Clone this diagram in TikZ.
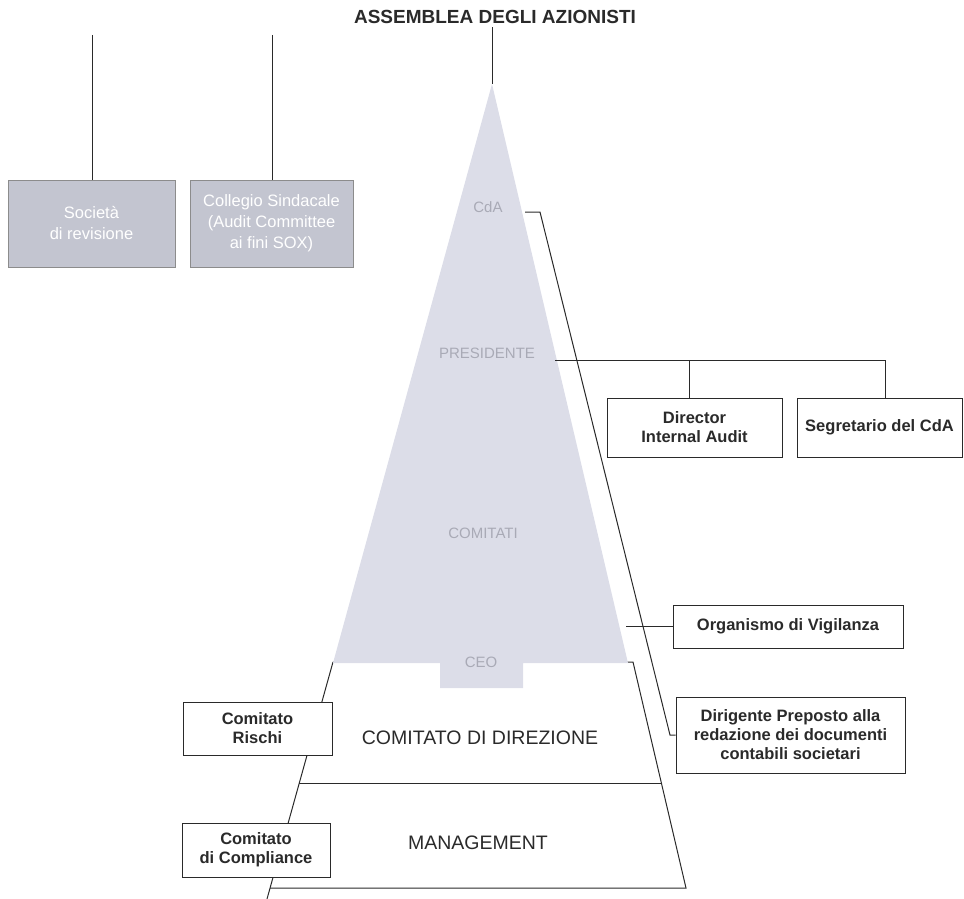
\documentclass[tikz,border=0pt]{standalone}
\usepackage{fontspec}
\setmainfont{Liberation Sans}
\definecolor{trigrey}{HTML}{DCDDE8}
\definecolor{boxgrey}{HTML}{C3C5D0}
\definecolor{faint}{HTML}{A9AAB6}
\definecolor{ink}{HTML}{2A2A2A}
\begin{document}
\begin{tikzpicture}[x=1pt,y=-1pt,
  wire/.style={draw=ink, line width=1pt},
  wbox/.style={draw=ink, line width=0.9pt, fill=white, align=center, inner sep=0pt,
    font=\fontsize{16.5}{19}\selectfont\bfseries, text=ink},
  gbox/.style={draw=black!45, line width=0.8pt, fill=boxgrey, align=center, inner sep=0pt,
    font=\fontsize{16.5}{21}\selectfont, text=white},
  plabel/.style={font=\fontsize{15}{18}\selectfont, text=faint, inner sep=1pt},
  tierlabel/.style={font=\fontsize{19.5}{22}\selectfont, text=ink}]
\useasboundingbox (0,0) rectangle (964,899);

% title
\node[font=\fontsize{19}{22}\selectfont\bfseries, text=ink] (title) at (495,17) {ASSEMBLEA DEGLI AZIONISTI};
\coordinate (apex) at (492,84);

% pyramid outline (trapezoid)
\coordinate (tl) at (333,662);
\coordinate (tr) at (633,662);
\coordinate (bl) at (270,888);
\coordinate (br) at (686,888);
\coordinate (bend) at (267,899);
\coordinate (ml) at (299,783);
\coordinate (mr) at (661,783);
\draw[wire] (tl) -- (tr) -- (br) -- (bl);
\draw[wire] (tl) -- (bend);
\draw[wire, line width=0.8pt] (ml) -- (mr);

% grey triangle
\fill[trigrey] (apex) -- (628,663) -- (523,663) -- (523,688) -- (440,688) -- (440,663) -- (333,663) -- cycle;
\draw[wire] (apex |- title.south) -- (apex);

% pyramid labels
\node[plabel] (cda) at (488,207) {CdA};
\node[plabel] (pres) at (487,353) {PRESIDENTE};
\node[plabel] (comitati) at (483,533) {COMITATI};
\node[plabel] (ceo) at (481,662) {CEO};
\node[tierlabel] (cdd) at (480,738) {COMITATO DI DIREZIONE};
\node[tierlabel] (mgmt) at (478,843) {MANAGEMENT};

% top-left boxes
\node[gbox, minimum width=167pt, minimum height=87pt] (soc) at (91.5,223.5) {Società\\di revisione};
\node[gbox, minimum width=163pt, minimum height=87pt] (col) at (271.5,223.5) {Collegio Sindacale\\(Audit Committee\\ai fini SOX)};
\coordinate (socTop) at (92,35);
\coordinate (colTop) at (272,35);
\draw[wire] (socTop) -- (socTop |- soc.north);
\draw[wire] (colTop) -- (colTop |- col.north);

% right boxes
\node[wbox, minimum width=175pt, minimum height=59pt] (dia) at (694.5,427.5) {Director\\Internal Audit};
\node[wbox, minimum width=165pt, minimum height=59pt] (seg) at (879.5,427.5) {Segretario del CdA};
\node[wbox, minimum width=230pt, minimum height=43pt] (org) at (788,626.5) {Organismo di Vigilanza};
\node[wbox, minimum width=229pt, minimum height=76pt] (dir) at (790.5,735) {Dirigente Preposto alla\\redazione dei documenti\\contabili societari};

% left boxes
\node[wbox, minimum width=149pt, minimum height=53pt] (ris) at (257.5,728.5) {Comitato\\Rischi};
\node[wbox, minimum width=148pt, minimum height=54pt] (comp) at (256,850) {Comitato\\di Compliance};

% connectors
\coordinate (cdaA) at (525,212);
\coordinate (cdaB) at (540,212);
\coordinate (cdaC) at (670,735);
\draw[wire] (cdaA) -- (cdaB) -- (cdaC) -- (dir.west);

\coordinate (presA) at (555,360);
\coordinate (presB) at (885,360);
\draw[wire] (presA) -- (presB) -- (presB |- seg.north);
\draw[wire] (689,360) -- (dia.north -| 689,0);

\coordinate (orgA) at (626,626.5);
\draw[wire] (orgA) -- (org.west);
\end{tikzpicture}
\end{document}
